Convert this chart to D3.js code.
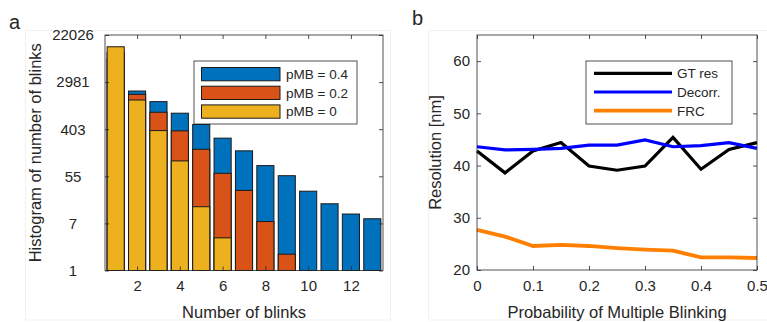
<!DOCTYPE html>
<html><head><meta charset="utf-8">
<script src="https://cdn.jsdelivr.net/npm/d3@7"></script>
<style>
body{margin:0;background:#fff}
svg{display:block}
text{font-family:"Liberation Sans",Arial,Helvetica,sans-serif;fill:#262626}
</style>
</head><body>
<svg id="c" width="767" height="322"></svg>
<script>
// ---------- Panel a data ----------
const blinks = [1,2,3,4,5,6,7,8,9,10,11,12,13];
const countsP04 = [8000,2040,1300,796,493,276,161,86,56,29,17,11,9];
const countsP02 = [10500,1772,829,376,172,62,30,8,2,0,0,0,0];
const countsP0  = [13360,1393,380,105,15,4,0,0,0,0,0,0,0];
const seriesNamesA = ["pMB = 0.4","pMB = 0.2","pMB = 0"];
const seriesColorsA = ["#0072BD","#D95319","#EDB120"];
const logTickExps = [0,2,4,6,8,10];
const logTickLabels = ["1","7","55","403","2981","22026"];
const xTicksA = [2,4,6,8,10,12];

// ---------- Panel b data ----------
const pmb = [0,0.05,0.1,0.15,0.2,0.25,0.3,0.35,0.4,0.45,0.5];
const gtRes  = [42.8,38.6,42.8,44.4,39.9,39.1,39.9,45.4,39.3,43.1,44.4];
const decorr = [43.6,43.0,43.1,43.3,43.9,43.9,44.9,43.6,43.8,44.4,43.3];
const frc    = [27.7,26.4,24.6,24.8,24.6,24.2,23.9,23.7,22.4,22.4,22.3];
const seriesNamesB = ["GT res","Decorr.","FRC"];
const seriesColorsB = ["#000000","#0000FF","#FF8000"];
const seriesWidthsB = [3.2,3.2,3.8];
const xTicksB = [0,0.1,0.2,0.3,0.4,0.5];
const yTicksB = [20,30,40,50,60];

const svg = d3.select("#c");
const axisColor = "#262626";

// faint panel frames
svg.append("rect").attr("x",25.5).attr("y",30.5).attr("width",365).attr("height",289.5)
  .attr("fill","none").attr("stroke","#f1f1f1").attr("stroke-width",1);
svg.append("rect").attr("x",428.5).attr("y",30.5).attr("width",345).attr("height",289.5)
  .attr("fill","none").attr("stroke","#f1f1f1").attr("stroke-width",1);

function styleAxis(g){
  g.select(".domain").remove();
  g.selectAll(".tick line").attr("stroke",axisColor).attr("stroke-width",0.8);
  g.selectAll(".tick text").attr("font-size",15).attr("fill",axisColor)
   .style("font-family",'"Liberation Sans",Arial,sans-serif');
}

// ================= Panel a =================
const A = {l:105,r:383,t:35,b:270.5};
const xA = d3.scaleLinear().domain([0.5,13.5]).range([A.l,A.r]);
const yA = d3.scaleLog().domain([1,Math.exp(10)]).range([A.b,A.t]);
const gA = svg.append("g");

const seriesA = [countsP04,countsP02,countsP0];
seriesA.forEach((vals,si)=>{
  gA.append("g").selectAll("rect").data(blinks.map((b,i)=>({b,v:vals[i]})).filter(d=>d.v>1))
    .join("rect")
    .attr("x",d=>xA(d.b-0.4))
    .attr("width",d=>xA(d.b+0.4)-xA(d.b-0.4))
    .attr("y",d=>yA(d.v))
    .attr("height",d=>yA(1)-yA(d.v))
    .attr("fill",seriesColorsA[si])
    .attr("stroke","#1a1a1a").attr("stroke-width",1);
});

// axes
const logTicks = logTickExps.map(e=>Math.exp(e));
gA.append("g").attr("transform",`translate(0,${A.b})`)
  .call(d3.axisBottom(xA).tickValues(xTicksA).tickSize(-4).tickPadding(10).tickFormat(d3.format("d")))
  .call(styleAxis);
gA.append("g").attr("transform",`translate(0,${A.t})`)
  .call(d3.axisTop(xA).tickValues(xTicksA).tickSize(-4).tickFormat(""))
  .call(styleAxis);
const yAxA = gA.append("g").attr("transform",`translate(${A.l},0)`)
  .call(d3.axisLeft(yA).tickValues(logTicks).tickSize(-4).tickFormat((d,i)=>logTickLabels[i]))
  .call(styleAxis);
yAxA.selectAll(".tick text").attr("text-anchor","middle").attr("x",-32);
gA.append("g").attr("transform",`translate(${A.r},0)`)
  .call(d3.axisRight(yA).tickValues(logTicks).tickSize(-4).tickFormat(""))
  .call(styleAxis);
gA.append("rect").attr("x",A.l).attr("y",A.t).attr("width",A.r-A.l).attr("height",A.b-A.t)
  .attr("fill","none").attr("stroke",axisColor).attr("stroke-width",0.8);

gA.append("text").attr("x",(A.l+A.r)/2).attr("y",318).attr("text-anchor","middle")
  .attr("font-size",16.5).text("Number of blinks");
gA.append("text").attr("transform",`translate(41,${(A.t+A.b)/2}) rotate(-90)`)
  .attr("text-anchor","middle").attr("font-size",16.5).text("Histogram of number of blinks");
svg.append("text").attr("x",9).attr("y",29).attr("font-size",20).attr("fill","#000").text("a");

// legend a
const LA = {x:194,y:61,w:163,h:63};
const legA = gA.append("g");
legA.append("rect").attr("x",LA.x).attr("y",LA.y).attr("width",LA.w).attr("height",LA.h)
  .attr("fill","#fff").attr("stroke",axisColor).attr("stroke-width",0.8);
seriesNamesA.forEach((n,i)=>{
  const yy = LA.y+6.5+i*18.7;
  legA.append("rect").attr("x",201.5).attr("y",yy).attr("width",78.5).attr("height",13.3)
    .attr("fill",seriesColorsA[i]).attr("stroke","#1a1a1a").attr("stroke-width",1);
  legA.append("text").attr("x",286).attr("y",yy+11.5).attr("font-size",13.5).text(n);
});

// ================= Panel b =================
const B = {l:477,r:757,t:35,b:270};
const xB = d3.scaleLinear().domain([0,0.5]).range([B.l,B.r]);
const yB = d3.scaleLinear().domain([20,65]).range([B.b,B.t]);
const gB = svg.append("g");

gB.append("g").attr("transform",`translate(0,${B.b})`)
  .call(d3.axisBottom(xB).tickValues(xTicksB).tickSize(-4).tickPadding(10).tickFormat(d=>d===0?"0":d3.format(".1f")(d)))
  .call(styleAxis);
gB.append("g").attr("transform",`translate(0,${B.t})`)
  .call(d3.axisTop(xB).tickValues(xTicksB).tickSize(-4).tickFormat(""))
  .call(styleAxis);
gB.append("g").attr("transform",`translate(${B.l},0)`)
  .call(d3.axisLeft(yB).tickValues(yTicksB).tickSize(-4).tickPadding(7).tickFormat(d3.format("d")))
  .call(styleAxis);
gB.append("g").attr("transform",`translate(${B.r},0)`)
  .call(d3.axisRight(yB).tickValues(yTicksB).tickSize(-4).tickFormat(""))
  .call(styleAxis);

const lineB = d3.line().x((d,i)=>xB(pmb[i])).y(d=>yB(d));
const seriesB = [gtRes,decorr,frc];
seriesB.forEach((vals,i)=>{
  gB.append("path").datum(vals).attr("d",lineB).attr("fill","none")
    .attr("stroke",seriesColorsB[i]).attr("stroke-width",seriesWidthsB[i]).attr("stroke-linejoin","miter");
});

gB.append("rect").attr("x",B.l).attr("y",B.t).attr("width",B.r-B.l).attr("height",B.b-B.t)
  .attr("fill","none").attr("stroke",axisColor).attr("stroke-width",0.8);

gB.append("text").attr("x",(B.l+B.r)/2).attr("y",318).attr("text-anchor","middle")
  .attr("font-size",16.5).text("Probability of Multiple Blinking");
gB.append("text").attr("transform",`translate(441,${(B.t+B.b)/2}) rotate(-90)`)
  .attr("text-anchor","middle").attr("font-size",16.5).text("Resolution [nm]");
svg.append("text").attr("x",412).attr("y",25).attr("font-size",20).attr("fill","#000").text("b");

// legend b
const LB = {x:586,y:61,w:146,h:63};
const legB = gB.append("g");
legB.append("rect").attr("x",LB.x).attr("y",LB.y).attr("width",LB.w).attr("height",LB.h)
  .attr("fill","#fff").attr("stroke",axisColor).attr("stroke-width",0.8);
seriesNamesB.forEach((n,i)=>{
  const yy = 73.3+i*18.7;
  legB.append("line").attr("x1",594).attr("x2",672).attr("y1",yy).attr("y2",yy)
    .attr("stroke",seriesColorsB[i]).attr("stroke-width",seriesWidthsB[i]);
  legB.append("text").attr("x",677).attr("y",yy+5).attr("font-size",13.5).text(n);
});
</script>
</body></html>
